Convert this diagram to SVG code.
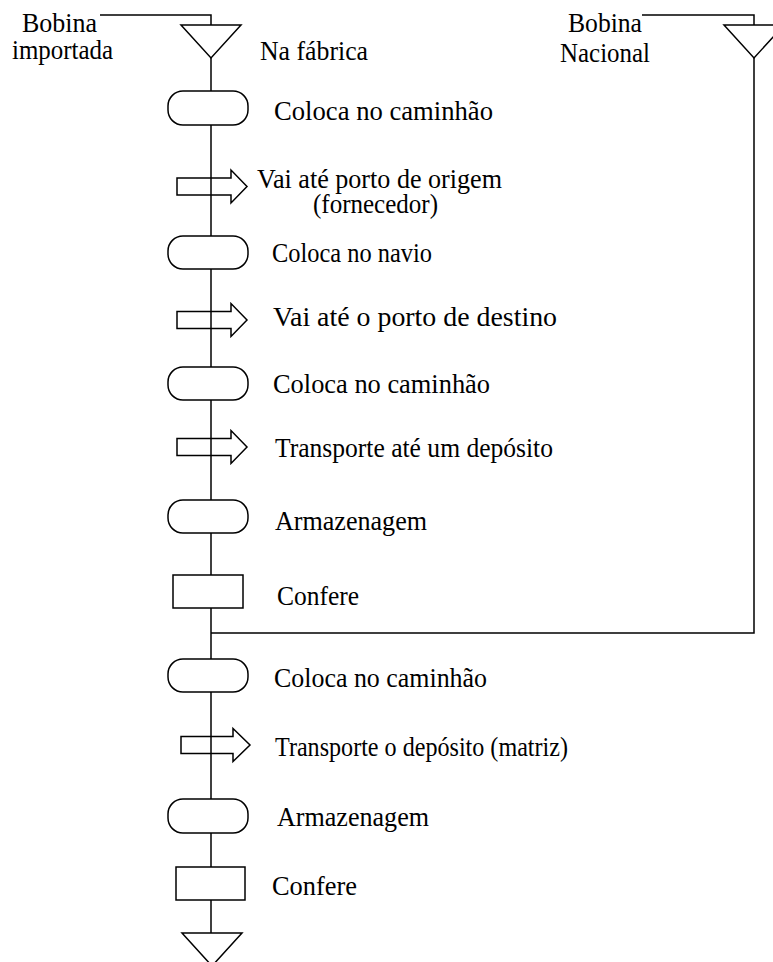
<svg xmlns="http://www.w3.org/2000/svg" width="773" height="962" viewBox="0 0 773 962">
  <style>
    .ln { fill: none; stroke: #000; stroke-width: 1.5; }
    .sh { fill: #fff; stroke: #000; stroke-width: 1.5; }
    .ar { fill: none; stroke: #000; stroke-width: 1.5; stroke-linejoin: miter; }
    text { font-family: "Liberation Serif", "Times New Roman", serif; font-size: 27.5px; fill: #000; }
  </style>
  <rect width="773" height="962" fill="#fff"/>

  <!-- connectors -->
  <g id="connectors">
    <polyline class="ln" points="100,15 211,15 211,25"/>
    <polyline class="ln" points="642,15 754,15 754,25"/>
    <line class="ln" x1="211" y1="58" x2="211" y2="933"/>
    <polyline class="ln" points="754,58 754,633 211,633"/>
  </g>

  <!-- start points -->
  <g id="start-importada">
    <polygon class="sh" points="181,25 241,25 211,58"/>
    <text x="22" y="32" textLength="75" lengthAdjust="spacingAndGlyphs">Bobina</text>
    <text x="12" y="59" textLength="101" lengthAdjust="spacingAndGlyphs">importada</text>
    <text x="260" y="60" textLength="108" lengthAdjust="spacingAndGlyphs">Na fábrica</text>
  </g>
  <g id="start-nacional">
    <polygon class="sh" points="724,25 784,25 754,58"/>
    <text x="568" y="32" textLength="74" lengthAdjust="spacingAndGlyphs">Bobina</text>
    <text x="560" y="62" textLength="90" lengthAdjust="spacingAndGlyphs">Nacional</text>
  </g>

  <!-- steps -->
  <g id="step1">
    <rect class="sh" x="168" y="91" width="80" height="34" rx="15"/>
    <text x="274" y="120" textLength="219" lengthAdjust="spacingAndGlyphs">Coloca no caminhão</text>
  </g>
  <g id="step2">
    <path class="ar" d="M177,178 H231 V170 L247,186.5 L231,203 V195 H177 Z"/>
    <text x="257" y="188" textLength="245" lengthAdjust="spacingAndGlyphs">Vai até porto de origem</text>
    <text x="313" y="213" textLength="125" lengthAdjust="spacingAndGlyphs">(fornecedor)</text>
  </g>
  <g id="step3">
    <rect class="sh" x="168" y="236" width="80" height="33" rx="15"/>
    <text x="272" y="262" textLength="160" lengthAdjust="spacingAndGlyphs">Coloca no navio</text>
  </g>
  <g id="step4">
    <path class="ar" d="M177,311.5 H231 V303.5 L247,320 L231,336.5 V328.5 H177 Z"/>
    <text x="273" y="326" textLength="284" lengthAdjust="spacingAndGlyphs">Vai até o porto de destino</text>
  </g>
  <g id="step5">
    <rect class="sh" x="168" y="367" width="80" height="33" rx="15"/>
    <text x="273" y="393" textLength="217" lengthAdjust="spacingAndGlyphs">Coloca no caminhão</text>
  </g>
  <g id="step6">
    <path class="ar" d="M177,438.5 H231 V430.5 L247,447 L231,463.5 V455.5 H177 Z"/>
    <text x="275" y="457" textLength="278" lengthAdjust="spacingAndGlyphs">Transporte até um depósito</text>
  </g>
  <g id="step7">
    <rect class="sh" x="168" y="500" width="80" height="33" rx="15"/>
    <text x="275" y="530" textLength="152" lengthAdjust="spacingAndGlyphs">Armazenagem</text>
  </g>
  <g id="step8">
    <rect class="sh" x="173" y="575" width="70" height="33"/>
    <text x="277" y="605" textLength="82" lengthAdjust="spacingAndGlyphs">Confere</text>
  </g>
  <g id="step9">
    <rect class="sh" x="168" y="659" width="80" height="33" rx="15"/>
    <text x="274" y="687" textLength="213" lengthAdjust="spacingAndGlyphs">Coloca no caminhão</text>
  </g>
  <g id="step10">
    <path class="ar" d="M181,736.5 H233 V728.5 L250,745 L233,761.5 V753.5 H181 Z"/>
    <text x="275" y="756" textLength="293" lengthAdjust="spacingAndGlyphs">Transporte o depósito (matriz)</text>
  </g>
  <g id="step11">
    <rect class="sh" x="168" y="799" width="80" height="34" rx="15"/>
    <text x="277" y="826" textLength="152" lengthAdjust="spacingAndGlyphs">Armazenagem</text>
  </g>
  <g id="step12">
    <rect class="sh" x="176" y="867" width="69" height="33"/>
    <text x="272" y="895" textLength="85" lengthAdjust="spacingAndGlyphs">Confere</text>
  </g>
  <g id="end">
    <polygon class="sh" points="182,933 242,933 212,966"/>
  </g>
</svg>
